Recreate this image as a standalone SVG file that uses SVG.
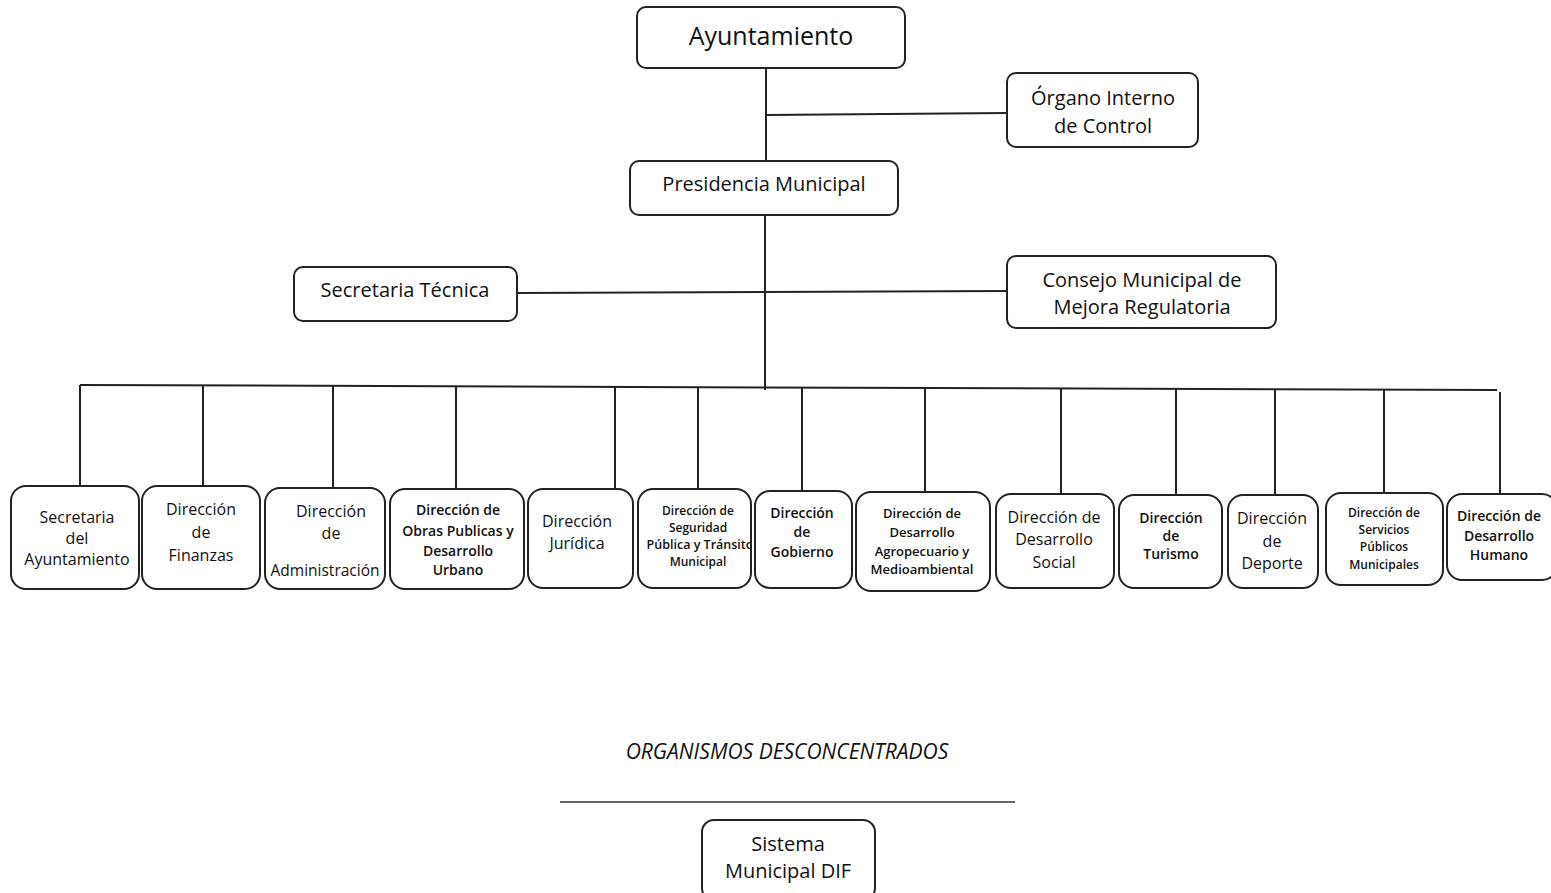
<svg xmlns="http://www.w3.org/2000/svg" width="1551" height="893" viewBox="0 0 1551 893">
<defs>
<style>
.box{fill:#fff;stroke:#222;stroke-width:2}
.ln{fill:none;stroke:#222;stroke-width:2}
text{font-family:"Open Sans","Liberation Sans",sans-serif;fill:#111;text-anchor:middle;font-weight:500}
.t25{font-size:25px}
.t20{font-size:20px}
.t16{font-size:16px}
.t14{font-size:14px;font-weight:600}
.t13{font-size:13px;font-weight:600}
.t12{font-size:12px;font-weight:600}
.it{font-size:21px;font-style:italic}
</style>
<clipPath id="clip6"><rect x="639" y="489" width="111" height="98"/></clipPath>
</defs>
<rect width="1551" height="893" fill="#fff"/>
<g id="connectors">
<path class="ln" d="M766 68 V161"/>
<path class="ln" d="M766 115 L1007 113"/>
<path class="ln" d="M765 215 V390"/>
<path class="ln" d="M517 293 L1007 291"/>
<path class="ln" d="M80 385 L1497 390"/>
<path class="ln" d="M80 385 V486"/>
<path class="ln" d="M203 385.4 V486"/>
<path class="ln" d="M333 385.9 V488"/>
<path class="ln" d="M456 386.3 V489"/>
<path class="ln" d="M615 386.9 V489"/>
<path class="ln" d="M698 387.2 V489"/>
<path class="ln" d="M802 387.5 V491"/>
<path class="ln" d="M925 388 V492"/>
<path class="ln" d="M1061 388.5 V494"/>
<path class="ln" d="M1176 388.9 V495"/>
<path class="ln" d="M1275 389.2 V495"/>
<path class="ln" d="M1384 389.6 V493"/>
<path class="ln" d="M1500 392 V494"/>
<path d="M560 802 H1015" fill="none" stroke="#333" stroke-width="1.5"/>
</g>
<g id="ayuntamiento">
<rect class="box" x="637" y="7" width="268" height="61" rx="9"/>
<text class="t25" x="771" y="45">Ayuntamiento</text>
</g>
<g id="organo-interno">
<rect class="box" x="1007" y="73" width="191" height="74" rx="9"/>
<text class="t20" x="1103" y="105">Órgano Interno</text>
<text class="t20" x="1103" y="133">de Control</text>
</g>
<g id="presidencia">
<rect class="box" x="630" y="161" width="268" height="54" rx="9"/>
<text class="t20" x="764" y="191">Presidencia Municipal</text>
</g>
<g id="secretaria-tecnica">
<rect class="box" x="294" y="267" width="223" height="54" rx="9"/>
<text class="t20" x="405" y="297">Secretaria Técnica</text>
</g>
<g id="consejo">
<rect class="box" x="1007" y="256" width="269" height="72" rx="9"/>
<text class="t20" x="1142" y="287">Consejo Municipal de</text>
<text class="t20" x="1142" y="314">Mejora Regulatoria</text>
</g>
<g id="secretaria-ayuntamiento">
<rect class="box" x="11" y="486" width="128" height="103" rx="15"/>
<text class="t16" x="77" y="523">Secretaria</text>
<text class="t16" x="77" y="544">del</text>
<text class="t16" x="77" y="565">Ayuntamiento</text>
</g>
<g id="finanzas">
<rect class="box" x="142" y="486" width="118" height="103" rx="15"/>
<text class="t16" x="201" y="515">Dirección</text>
<text class="t16" x="201" y="538">de</text>
<text class="t16" x="201" y="561">Finanzas</text>
</g>
<g id="administracion">
<rect class="box" x="265" y="488" width="120" height="101" rx="15"/>
<text class="t16" x="331" y="517">Dirección</text>
<text class="t16" x="331" y="539">de</text>
<text class="t16" x="325" y="576" style="font-size:15.5px">Administración</text>
</g>
<g id="obras-publicas">
<rect class="box" x="390" y="489" width="134" height="100" rx="15"/>
<text class="t14" x="458" y="515">Dirección de</text>
<text class="t14" x="458" y="536">Obras Publicas y</text>
<text class="t14" x="458" y="556">Desarrollo</text>
<text class="t14" x="458" y="575">Urbano</text>
</g>
<g id="juridica">
<rect class="box" x="528" y="489" width="105" height="99" rx="15"/>
<text class="t16" x="577" y="527">Dirección</text>
<text class="t16" x="577" y="549">Jurídica</text>
</g>
<g id="seguridad">
<rect class="box" x="638" y="489" width="113" height="99" rx="15"/>
<text class="t12" x="698" y="515">Dirección de</text>
<text class="t12" x="698" y="532">Seguridad</text>
<text class="t12" x="700" y="549" clip-path="url(#clip6)" style="font-size:12.5px">Pública y Tránsito</text>
<text class="t12" x="698" y="566">Municipal</text>
</g>
<g id="gobierno">
<rect class="box" x="755" y="491" width="97" height="97" rx="15"/>
<text class="t14" x="802" y="518">Dirección</text>
<text class="t14" x="802" y="537">de</text>
<text class="t14" x="802" y="557">Gobierno</text>
</g>
<g id="agropecuario">
<rect class="box" x="856" y="492" width="134" height="99" rx="15"/>
<text class="t13" x="922" y="518">Dirección de</text>
<text class="t13" x="922" y="537">Desarrollo</text>
<text class="t13" x="922" y="556">Agropecuario y</text>
<text class="t13" x="922" y="574">Medioambiental</text>
</g>
<g id="desarrollo-social">
<rect class="box" x="996" y="494" width="118" height="94" rx="15"/>
<text class="t16" x="1054" y="523">Dirección de</text>
<text class="t16" x="1054" y="545">Desarrollo</text>
<text class="t16" x="1054" y="568">Social</text>
</g>
<g id="turismo">
<rect class="box" x="1119" y="495" width="103" height="93" rx="15"/>
<text class="t14" x="1171" y="523">Dirección</text>
<text class="t14" x="1171" y="541">de</text>
<text class="t14" x="1171" y="559">Turismo</text>
</g>
<g id="deporte">
<rect class="box" x="1228" y="495" width="90" height="93" rx="15"/>
<text class="t16" x="1272" y="524">Dirección</text>
<text class="t16" x="1272" y="547">de</text>
<text class="t16" x="1272" y="569">Deporte</text>
</g>
<g id="servicios-publicos">
<rect class="box" x="1326" y="493" width="117" height="92" rx="15"/>
<text class="t12" x="1384" y="517">Dirección de</text>
<text class="t12" x="1384" y="534">Servicios</text>
<text class="t12" x="1384" y="551">Públicos</text>
<text class="t12" x="1384" y="569">Municipales</text>
</g>
<g id="desarrollo-humano">
<rect class="box" x="1447" y="494" width="110" height="86" rx="15"/>
<text class="t14" x="1499" y="521">Dirección de</text>
<text class="t14" x="1499" y="541">Desarrollo</text>
<text class="t14" x="1499" y="560">Humano</text>
</g>
<g id="organismos-label">
<text class="it" x="787" y="759">ORGANISMOS DESCONCENTRADOS</text>
</g>
<g id="sistema-dif">
<rect class="box" x="702" y="820" width="173" height="80" rx="12"/>
<text class="t20" x="788" y="851">Sistema</text>
<text class="t20" x="788" y="878">Municipal DIF</text>
</g>
</svg>
